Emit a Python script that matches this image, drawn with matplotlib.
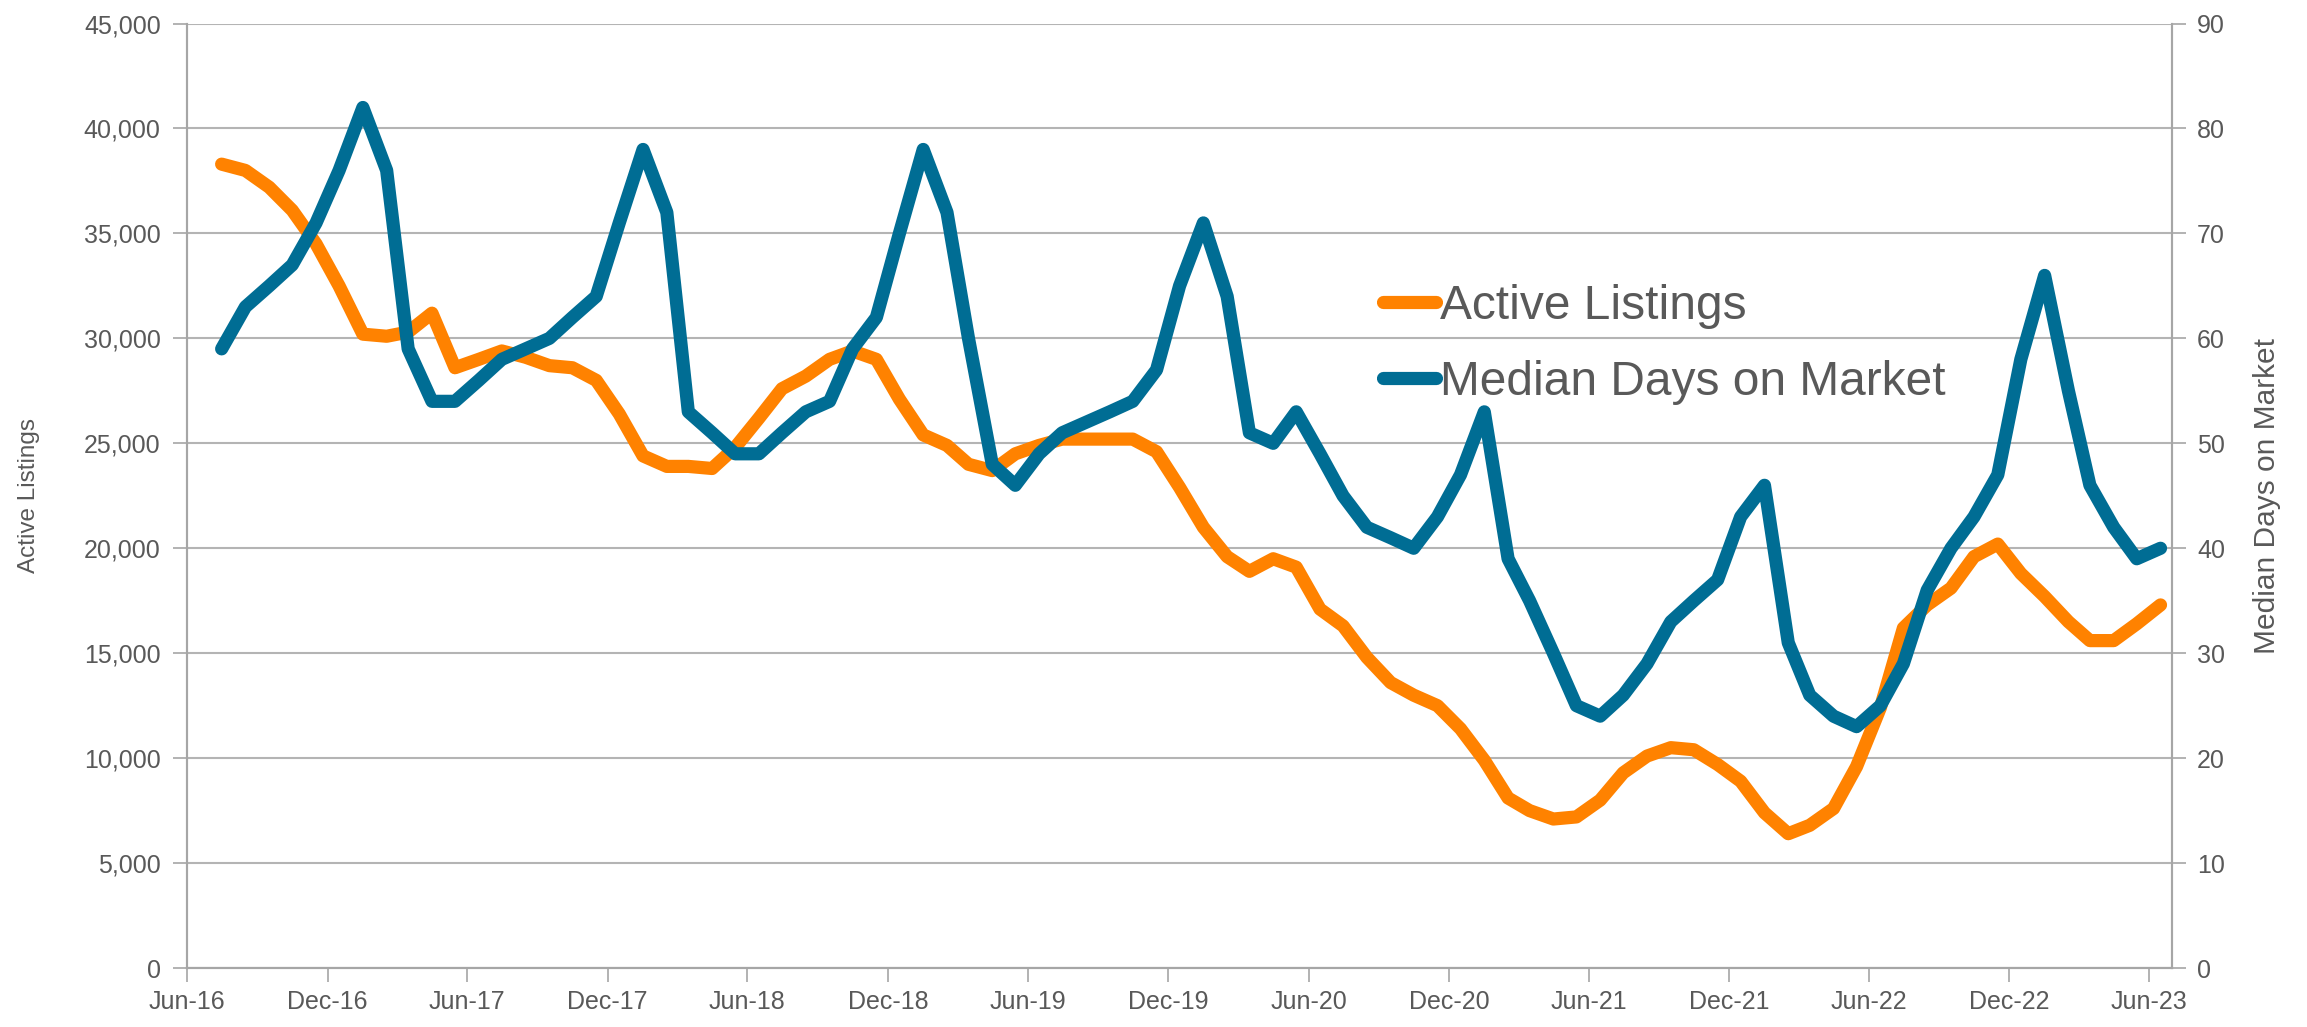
import numpy as np
import pandas as pd
import matplotlib
matplotlib.use("Agg")
import matplotlib.pyplot as plt
import matplotlib.dates as mdates
from matplotlib.ticker import FuncFormatter, MultipleLocator

plt.rcParams["font.family"] = ["Liberation Sans", "DejaVu Sans"]

# monthly data, Jul-16 .. Jun-23
months = pd.date_range("2016-07-01", "2023-06-01", freq="MS")
active_listings = [
    38300, 38000, 37200, 36100, 34500, 32500, 30200, 30100, 30300, 31200, 28600, 29000,
    29400, 29100, 28700, 28600, 28000, 26400, 24400, 23900, 23900, 23800, 24800, 26200,
    27600, 28200, 29000, 29400, 29000, 27100, 25400, 24900, 24000, 23700, 24500, 24900,
    25200, 25200, 25200, 25200, 24600, 22900, 21000, 19600, 18900, 19500, 19100, 17100,
    16300, 14800, 13600, 13000, 12500, 11400, 9900, 8100, 7500, 7100, 7200, 8000,
    9300, 10100, 10500, 10400, 9700, 8900, 7400, 6400, 6800, 7600, 9600, 12400,
    16200, 17300, 18100, 19600, 20200, 18800, 17700, 16500, 15600, 15600, 16400, 17300,
]
median_dom = [
    59, 63, 65, 67, 71, 76, 82, 76, 59, 54, 54, 56,
    58, 59, 60, 62, 64, 71, 78, 72, 53, 51, 49, 49,
    51, 53, 54, 59, 62, 70, 78, 72, 60, 48, 46, 49,
    51, 52, 53, 54, 57, 65, 71, 64, 51, 50, 53, 49,
    45, 42, 41, 40, 43, 47, 53, 39, 35, 30, 25, 24,
    26, 29, 33, 35, 37, 43, 46, 31, 26, 24, 23, 25,
    29, 36, 40, 43, 47, 58, 66, 55, 46, 42, 39, 40,
]
tick_dates = pd.date_range("2016-06-01", "2023-06-01", freq="6MS")

ORANGE = "#FF8200"
BLUE = "#006D94"
TEXT = "#595959"
GRID = "#B4B4B4"
SPINE = "#A6A6A6"

# points sit in the middle of each month
x = months + pd.Timedelta(days=15)

fig = plt.figure(figsize=(23.07, 10.27), dpi=100)
ax = fig.add_axes([0.0811, 0.0574, 0.8604, 0.9197])
ax2 = ax.twinx()

l1, = ax.plot(x, active_listings, color=ORANGE, lw=9.5,
              solid_capstyle="round", solid_joinstyle="round", label="Active Listings")
l2, = ax2.plot(x, median_dom, color=BLUE, lw=9.5,
               solid_capstyle="round", solid_joinstyle="round", label="Median Days on Market")

ax.set_xlim(pd.Timestamp("2016-06-01"), pd.Timestamp("2023-07-01"))
ax.set_xticks(tick_dates)
ax.xaxis.set_major_formatter(mdates.DateFormatter("%b-%y"))

ax.set_ylim(0, 45000)
ax.yaxis.set_major_locator(MultipleLocator(5000))
ax.yaxis.set_major_formatter(FuncFormatter(lambda v, p: f"{int(v):,}"))
ax2.set_ylim(0, 90)
ax2.yaxis.set_major_locator(MultipleLocator(10))

ax.grid(axis="y", color=GRID, lw=1.5)
ax.set_axisbelow(True)

for a in (ax, ax2):
    a.spines["top"].set_visible(False)
    for s in ("left", "right", "bottom"):
        a.spines[s].set_color(SPINE)
        a.spines[s].set_linewidth(1.5)

ax.tick_params(axis="x", length=10, width=1.2, color=SPINE, labelsize=18, labelcolor=TEXT, pad=6)
ax.tick_params(axis="y", length=10, width=1.2, color=SPINE, labelsize=18, labelcolor=TEXT, pad=9)
ax2.tick_params(axis="y", length=10, width=1.2, color=SPINE, labelsize=18, labelcolor=TEXT, pad=8)

ax.set_ylabel("Active Listings", fontsize=17.5, color=TEXT)
ax.yaxis.set_label_coords(-0.074, 0.5)
ax2.set_ylabel("Median Days on Market", fontsize=21.5, color=TEXT, rotation=90)
ax2.yaxis.set_label_coords(1.041, 0.5)

ax2.legend([l1, l2], [l1.get_label(), l2.get_label()], loc="center left",
           bbox_to_anchor=(1383 / 2307, 0.6645), bbox_transform=fig.transFigure,
           frameon=False, fontsize=34.5, labelcolor=TEXT, handlelength=1.1,
           handletextpad=0.1, labelspacing=0.64, borderpad=0, borderaxespad=0)

fig.savefig("out.png", dpi=100)
